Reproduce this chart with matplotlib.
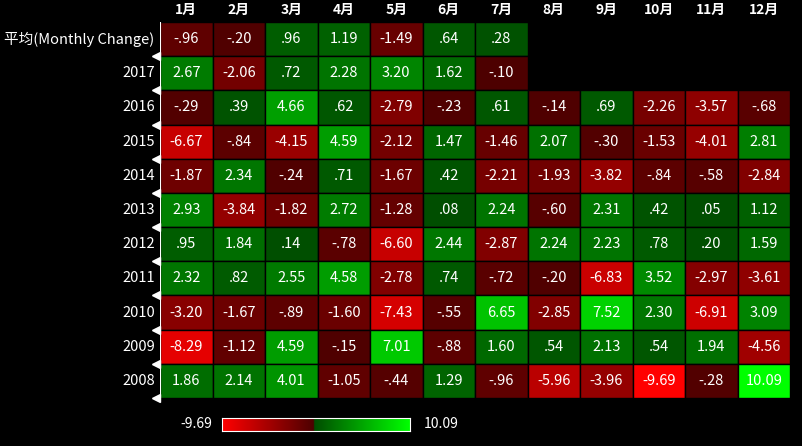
import numpy as np
import matplotlib
matplotlib.use("Agg")
import matplotlib.pyplot as plt
from matplotlib.colors import LinearSegmentedColormap, Normalize

plt.rcParams['font.family'] = ['Noto Sans CJK SC', 'DejaVu Sans']

months = ["1月","2月","3月","4月","5月","6月","7月","8月","9月","10月","11月","12月"]
rows = ["平均(Monthly Change)","2017","2016","2015","2014","2013","2012","2011","2010","2009","2008"]
nan = np.nan
values = [
 [-.96,-.20,.96,1.19,-1.49,.64,.28,nan,nan,nan,nan,nan],
 [2.67,-2.06,.72,2.28,3.20,1.62,-.10,nan,nan,nan,nan,nan],
 [-.29,.39,4.66,.62,-2.79,-.23,.61,-.14,.69,-2.26,-3.57,-.68],
 [-6.67,-.84,-4.15,4.59,-2.12,1.47,-1.46,2.07,-.30,-1.53,-4.01,2.81],
 [-1.87,2.34,-.24,.71,-1.67,.42,-2.21,-1.93,-3.82,-.84,-.58,-2.84],
 [2.93,-3.84,-1.82,2.72,-1.28,.08,2.24,-.60,2.31,.42,.05,1.12],
 [.95,1.84,.14,-.78,-6.60,2.44,-2.87,2.24,2.23,.78,.20,1.59],
 [2.32,.82,2.55,4.58,-2.78,.74,-.72,-.20,-6.83,3.52,-2.97,-3.61],
 [-3.20,-1.67,-.89,-1.60,-7.43,-.55,6.65,-2.85,7.52,2.30,-6.91,3.09],
 [-8.29,-1.12,4.59,-.15,7.01,-.88,1.60,.54,2.13,.54,1.94,-4.56],
 [1.86,2.14,4.01,-1.05,-.44,1.29,-.96,-5.96,-3.96,-9.69,-.28,10.09],
]
vmin, vmax = -9.69, 10.09
z = -vmin/(vmax-vmin)
cmap = LinearSegmentedColormap.from_list("rg", [(0,(1,0,0)),(z-0.001,(0.3,0,0)),(z+0.001,(0,0.3,0)),(1,(0,1,0))])
norm = Normalize(vmin, vmax)

def fmt(v):
    s = f"{abs(v):.2f}"
    if s.startswith("0"): s = s[1:]
    return ("-" if v < 0 else "") + s

W, H = 802, 446
fig = plt.figure(figsize=(W/100, H/100), dpi=100, facecolor='black')
x0, x1, y0, y1 = 160, 790, 22, 398
ax = fig.add_axes([x0/W, 1-y1/H, (x1-x0)/W, (y1-y0)/H])
ax.set_facecolor('black')
nr, nc = len(rows), len(months)
ax.set_xlim(0, nc); ax.set_ylim(nr, 0)
for i in range(nr):
    for j in range(nc):
        v = values[i][j]
        if np.isnan(v): continue
        ax.add_patch(plt.Rectangle((j, i), 1, 1, facecolor=cmap(norm(v)), edgecolor='black', lw=1))
        ax.text(j+0.5, i+0.5, fmt(v), color='white', ha='center', va='center', fontsize=10.5)
ax.set_xticks([]); ax.set_yticks([])
for s in ax.spines.values(): s.set_visible(False)
ax.axvline(0, color='white', lw=1.5)
for j, m in enumerate(months):
    ax.text(j+0.5, -0.35, m, color='white', ha='center', va='center', fontsize=10, fontweight='bold')
for i, r in enumerate(rows):
    ax.text(-0.1, i+0.5, r, color='white', ha='right', va='center', fontsize=10.5)
    ax.plot([-0.07], [i+1], marker='<', color='white', ms=6, clip_on=False, linestyle='none')

cax = fig.add_axes([222/W, 1-431/H, (410-222)/W, 13/H])
grad = np.linspace(vmin, vmax, 256).reshape(1, -1)
cax.imshow(grad, aspect='auto', cmap=cmap, norm=norm)
cax.set_xticks([]); cax.set_yticks([])
for s in cax.spines.values(): s.set_edgecolor('white')
fig.text(212/W, 1-424/H, "-9.69", color='white', ha='right', va='center', fontsize=10)
fig.text(424/W, 1-424/H, "10.09", color='white', ha='left', va='center', fontsize=10)
fig.savefig("out.png", dpi=100, facecolor='black')
